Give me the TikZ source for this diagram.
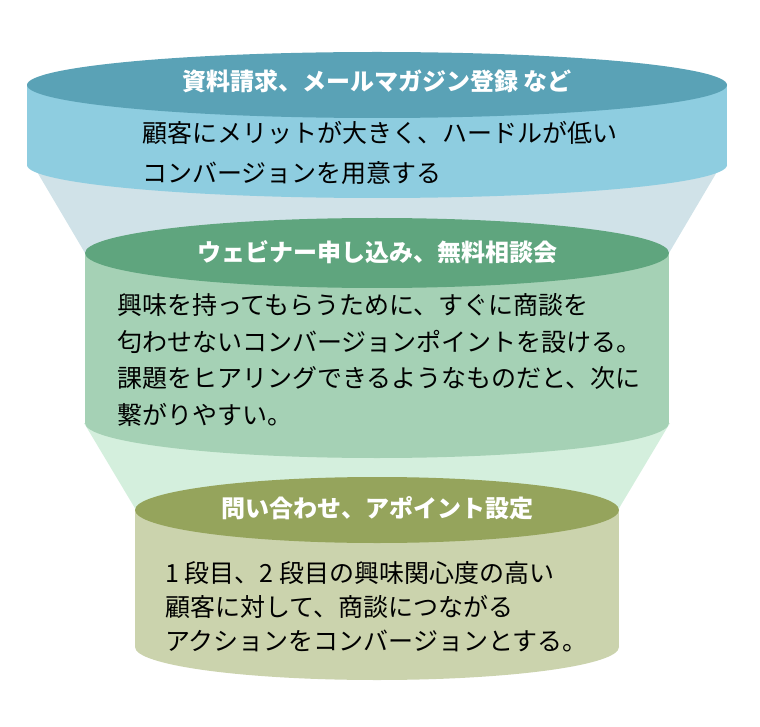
\documentclass[tikz,border=0pt]{standalone}
\usepackage{fontspec}
\setmainfont{Noto Sans CJK JP}
\usepackage{tikz}
\usetikzlibrary{positioning}
\definecolor{coltop1}{HTML}{5AA2B6}
\definecolor{colbody1}{HTML}{8ECDE0}
\definecolor{colfun1}{HTML}{D0E2E8}
\definecolor{coltop2}{HTML}{5FA57E}
\definecolor{colbody2}{HTML}{A5D1B5}
\definecolor{colfun2}{HTML}{D4EFDD}
\definecolor{coltop3}{HTML}{95A45C}
\definecolor{colbody3}{HTML}{CBD3AD}

\begin{document}
\begin{tikzpicture}[x=1pt, y=-1pt,
    head/.style={text=white, inner sep=0pt, font=\fontsize{24}{28}\selectfont\bfseries},
    body/.style={anchor=west, align=left, inner sep=0pt}]
  \useasboundingbox (0,0) rectangle (760,727);
  % funnel pieces between the tiers
  \foreach \i/\ya/\xa/\yb/\xb in {1/165/33/253/85, 2/423/84/510/136}
    \fill[colfun\i] (\xa,\ya) -- ({754-\xa},\ya) -- ({754-\xb},\yb) -- (\xb,\yb) -- cycle;
  % the three tiers
  \foreach \i/\rx/\ry/\yt/\yb in {1/350/33/85/165, 2/292/35/253/423, 3/242/33/510/647} {
    \fill[colbody\i] (377,\yb) ellipse [x radius=\rx, y radius=\ry];
    \fill[colbody\i] ({377-\rx},\yt) rectangle ({377+\rx},\yb);
    \fill[coltop\i] (377,\yt) ellipse [x radius=\rx, y radius=\ry];
  }
  \node[head] (h1) at (377,81) {資料請求、メールマガジン登録 など};
  \node[head] (h2) at (377,252) {ウェビナー申し込み、無料相談会};
  \node[head] (h3) at (377,508) {問い合わせ、アポイント設定};
  \node[body, font=\fontsize{25}{40}\selectfont] (t1) at (142,153)
    {顧客にメリットが大きく、ハードルが低い\\コンバージョンを用意する};
  \node[body, font=\fontsize{25}{36.5}\selectfont] (t2) at (117,360)
    {興味を持ってもらうために、すぐに商談を\\匂わせないコンバージョンポイントを設ける。\\課題をヒアリングできるようなものだと、次に\\繋がりやすい。};
  \node[body, font=\fontsize{25}{34}\selectfont] (t3) at (165,607)
    {1 段目、2 段目の興味関心度の高い\\顧客に対して、商談につながる\\アクションをコンバージョンとする。};
\end{tikzpicture}
\end{document}
